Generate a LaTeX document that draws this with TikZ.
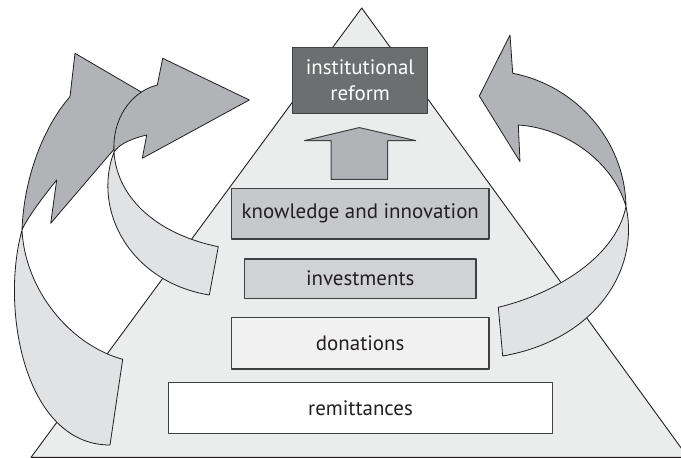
\documentclass[tikz,border=0pt]{standalone}
\usepackage{fontspec}
\setmainfont{PT Sans}
\definecolor{tri}{HTML}{EBECEC}
\definecolor{topbox}{HTML}{6D6E70}
\definecolor{knowbox}{HTML}{C7C8CA}
\definecolor{investbox}{HTML}{D1D2D4}
\definecolor{donbox}{HTML}{F1F1F2}
\definecolor{arrdark}{HTML}{B1B3B6}
\definecolor{arrlight}{HTML}{E1E2E3}
\definecolor{arrline}{HTML}{231F20}
\definecolor{boxline}{HTML}{414042}
\definecolor{textcol}{HTML}{231F20}
\begin{document}
\begin{tikzpicture}[x=1bp,y=-1bp,line join=round]
\tikzset{
  boxstyle/.style={draw=boxline, line width=1.2bp, inner sep=0pt, text=textcol,
    font=\fontsize{21}{26.7}\selectfont},
  darkband/.style={fill=arrdark, draw=arrline, line width=0.8bp},
  lightband/.style={fill=arrlight, draw=arrline, line width=0.8bp},
}
\useasboundingbox (0,0) rectangle (681,458);
% pyramid
\draw[fill=tri, draw=arrline, line width=0.9bp] (361.7,8) -- (688,457.4) -- (31,457.4) -- cycle;

% boxes
\node[boxstyle, fill=topbox, text=white, align=center, minimum width=135bp, minimum height=66bp]
  (reform) at (360.2,80.4) {institutional\\reform};
\node[boxstyle, fill=knowbox, minimum width=257.3bp, minimum height=50.7bp]
  (know) at (360.3,213.7) {knowledge and innovation};
\node[boxstyle, fill=investbox, minimum width=231.7bp, minimum height=39.3bp]
  (invest) at (360.2,278.7) {investments};
\node[boxstyle, fill=donbox, minimum width=257.7bp, minimum height=51.3bp]
  (donat) at (360.2,343.4) {donations};
\node[boxstyle, fill=white, minimum width=384.4bp, minimum height=51bp]
  (remit) at (360.5,408.2) {remittances};

% up arrow
\draw[fill=arrdark, draw=boxline, line width=1bp]
  (331,179.3) -- (331,140.6) -- (304.5,140.6) -- (359.3,127.6) -- (415.7,140.6)
  -- (387.7,140.6) -- (387.7,179.3) -- cycle;

% outer left arrow: light tail
\draw[lightband] (22,230) .. controls (0,310) and (25,445) .. (110,445)
  -- (122.7,359.3) .. controls (70,345) and (25,290) .. (22,230) -- cycle;
% outer left arrow: dark head
\draw[darkband] (70,96.7) -- (75,53.3) -- (155.7,100.5) -- (50.7,223.3) -- (56.7,180)
  .. controls (42,198) and (26,220) .. (22,230)
  .. controls (24,175) and (45,125) .. (70,96.7) -- cycle;

% inner left arrow: light tail
\draw[lightband] (114,152) .. controls (92,210) and (130,282) .. (209.3,295)
  -- (218.3,246.7) .. controls (160,235) and (117,200) .. (114,152) -- cycle;
% inner left arrow: dark head
\draw[darkband] (157.3,85) -- (162.7,58.3) -- (249.3,100) -- (142.3,158.3) -- (146.7,135)
  .. controls (134,138) and (120,143) .. (114,152)
  .. controls (112,120) and (130,92) .. (157.3,85) -- cycle;

% right arrow: light tail
\draw[lightband] (626,206.5) .. controls (615,260) and (550,295) .. (498.3,307.3)
  -- (502.7,356) .. controls (595,340) and (640,270) .. (626,206.5) -- cycle;
% right arrow: dark head
\draw[darkband] (512.7,73.3) -- (510,35) -- (479.3,96) -- (520,161.7) -- (518.3,125)
  .. controls (566,128) and (613,162) .. (626,206.5)
  .. controls (625,140) and (575,85) .. (512.7,73.3) -- cycle;
\end{tikzpicture}
\end{document}
